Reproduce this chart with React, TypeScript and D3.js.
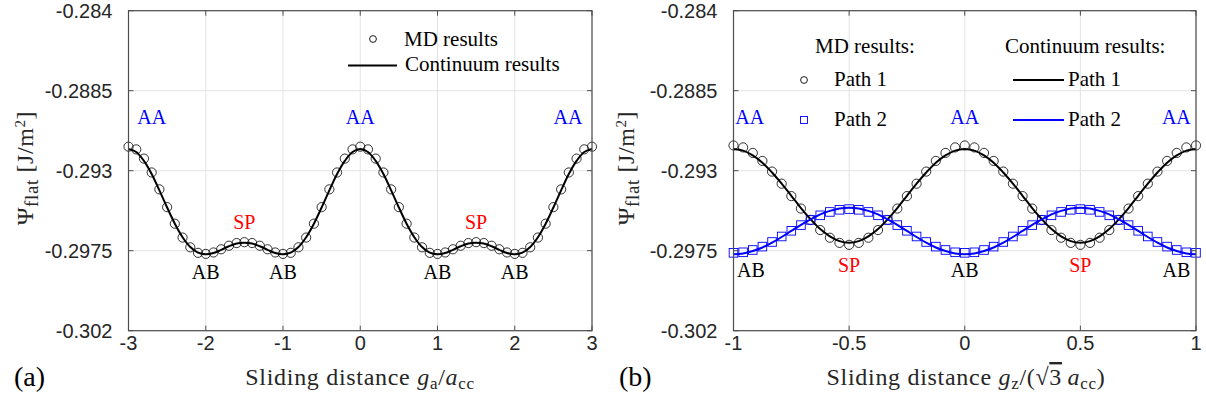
import React from "react";
import * as d3 from "d3";

// ---------- data ----------
const LEFT_X_START = -3;
const LEFT_X_STEP = 0.1;
const LEFT_MD = [-0.29165, -0.29180, -0.29232, -0.29310, -0.29405, -0.29505, -0.29598, -0.29676, -0.29731, -0.29762, -0.29768, -0.29760, -0.29742, -0.29722, -0.29707, -0.29702, -0.29707, -0.29722, -0.29742, -0.29760, -0.29768, -0.29762, -0.29731, -0.29676, -0.29598, -0.29505, -0.29405, -0.29310, -0.29232, -0.29180, -0.29165, -0.29180, -0.29232, -0.29310, -0.29405, -0.29505, -0.29598, -0.29676, -0.29731, -0.29762, -0.29768, -0.29760, -0.29742, -0.29722, -0.29707, -0.29702, -0.29707, -0.29722, -0.29742, -0.29760, -0.29768, -0.29762, -0.29731, -0.29676, -0.29598, -0.29505, -0.29405, -0.29310, -0.29232, -0.29180, -0.29165];
const LEFT_CONT = [-0.29178, -0.29195, -0.29245, -0.29319, -0.29411, -0.29507, -0.29598, -0.29674, -0.29729, -0.29761, -0.29770, -0.29763, -0.29745, -0.29725, -0.29710, -0.29705, -0.29710, -0.29725, -0.29745, -0.29763, -0.29770, -0.29761, -0.29729, -0.29674, -0.29598, -0.29507, -0.29411, -0.29319, -0.29245, -0.29195, -0.29178, -0.29195, -0.29245, -0.29319, -0.29411, -0.29507, -0.29598, -0.29674, -0.29729, -0.29761, -0.29770, -0.29763, -0.29745, -0.29725, -0.29710, -0.29705, -0.29710, -0.29725, -0.29745, -0.29763, -0.29770, -0.29761, -0.29729, -0.29674, -0.29598, -0.29507, -0.29411, -0.29319, -0.29245, -0.29195, -0.29178];

const RIGHT_X_START = -1;
const RIGHT_X_STEP = 1 / 24;
const RIGHT_MD_PATH1 = [-0.29158, -0.29169, -0.29200, -0.29245, -0.29305, -0.29373, -0.29443, -0.29513, -0.29577, -0.29634, -0.29677, -0.29706, -0.29717, -0.29706, -0.29677, -0.29634, -0.29577, -0.29513, -0.29443, -0.29373, -0.29305, -0.29245, -0.29200, -0.29169, -0.29158, -0.29169, -0.29200, -0.29245, -0.29305, -0.29373, -0.29443, -0.29513, -0.29577, -0.29634, -0.29677, -0.29706, -0.29717, -0.29706, -0.29677, -0.29634, -0.29577, -0.29513, -0.29443, -0.29373, -0.29305, -0.29245, -0.29200, -0.29169, -0.29158];
const RIGHT_MD_PATH2 = [-0.29762, -0.29759, -0.29746, -0.29727, -0.29701, -0.29670, -0.29638, -0.29606, -0.29577, -0.29551, -0.29532, -0.29520, -0.29516, -0.29520, -0.29532, -0.29551, -0.29577, -0.29606, -0.29638, -0.29670, -0.29701, -0.29727, -0.29746, -0.29759, -0.29762, -0.29759, -0.29746, -0.29727, -0.29701, -0.29670, -0.29638, -0.29606, -0.29577, -0.29551, -0.29532, -0.29520, -0.29516, -0.29520, -0.29532, -0.29551, -0.29577, -0.29606, -0.29638, -0.29670, -0.29701, -0.29727, -0.29746, -0.29759, -0.29762];
const RIGHT_CONT_PATH1 = [-0.29178, -0.29187, -0.29214, -0.29255, -0.29310, -0.29373, -0.29441, -0.29510, -0.29573, -0.29628, -0.29669, -0.29696, -0.29705, -0.29696, -0.29669, -0.29628, -0.29573, -0.29510, -0.29441, -0.29373, -0.29310, -0.29255, -0.29214, -0.29187, -0.29178, -0.29187, -0.29214, -0.29255, -0.29310, -0.29373, -0.29441, -0.29510, -0.29573, -0.29628, -0.29669, -0.29696, -0.29705, -0.29696, -0.29669, -0.29628, -0.29573, -0.29510, -0.29441, -0.29373, -0.29310, -0.29255, -0.29214, -0.29187, -0.29178];
const RIGHT_CONT_PATH2 = [-0.29770, -0.29766, -0.29752, -0.29732, -0.29705, -0.29673, -0.29639, -0.29605, -0.29574, -0.29546, -0.29526, -0.29512, -0.29508, -0.29512, -0.29526, -0.29546, -0.29574, -0.29605, -0.29639, -0.29673, -0.29705, -0.29732, -0.29752, -0.29766, -0.29770, -0.29766, -0.29752, -0.29732, -0.29705, -0.29673, -0.29639, -0.29605, -0.29574, -0.29546, -0.29526, -0.29512, -0.29508, -0.29512, -0.29526, -0.29546, -0.29574, -0.29605, -0.29639, -0.29673, -0.29705, -0.29732, -0.29752, -0.29766, -0.29770];

const Y_TICKS = [-0.302, -0.2975, -0.293, -0.2885, -0.284];
const Y_TICK_LABELS = ["-0.302", "-0.2975", "-0.293", "-0.2885", "-0.284"];
const LEFT_X_TICKS = [-3, -2, -1, 0, 1, 2, 3];
const LEFT_X_TICK_LABELS = ["-3", "-2", "-1", "0", "1", "2", "3"];
const RIGHT_X_TICKS = [-1, -0.5, 0, 0.5, 1];
const RIGHT_X_TICK_LABELS = ["-1", "-0.5", "0", "0.5", "1"];

const LEFT_ANNOT = [
  { x: -2.7, y: -0.2904, t: "AA", c: "#0000ff" },
  { x: 0, y: -0.2904, t: "AA", c: "#0000ff" },
  { x: 2.69, y: -0.2904, t: "AA", c: "#0000ff" },
  { x: -1.5, y: -0.2963, t: "SP", c: "#ff0000" },
  { x: 1.5, y: -0.2963, t: "SP", c: "#ff0000" },
  { x: -2, y: -0.2991, t: "AB", c: "#000000" },
  { x: -1, y: -0.2991, t: "AB", c: "#000000" },
  { x: 1, y: -0.2991, t: "AB", c: "#000000" },
  { x: 2, y: -0.2991, t: "AB", c: "#000000" },
];
const RIGHT_ANNOT = [
  { x: -0.93, y: -0.2904, t: "AA", c: "#0000ff" },
  { x: 0, y: -0.2904, t: "AA", c: "#0000ff" },
  { x: 0.915, y: -0.2904, t: "AA", c: "#0000ff" },
  { x: -0.5, y: -0.2987, t: "SP", c: "#ff0000" },
  { x: 0.5, y: -0.2987, t: "SP", c: "#ff0000" },
  { x: -0.925, y: -0.2990, t: "AB", c: "#000000" },
  { x: 0, y: -0.2990, t: "AB", c: "#000000" },
  { x: 0.915, y: -0.2990, t: "AB", c: "#000000" },
];

// ---------- style ----------
const SERIF = "'Liberation Serif', 'Times New Roman', serif";
const SANS = "'Liberation Sans', Arial, sans-serif";
const TOP = 10.7;
const BOTTOM = 330.7;
const AXIS_COLOR = "#4d4d4d";
const GRID_COLOR = "#e3e3e3";

const yScale = d3.scaleLinear().domain([-0.302, -0.284]).range([BOTTOM, TOP]);

function Grid({ x, xTicks }: any) {
  const [x0, x1] = x.range();
  return (
    <g>
      {xTicks.map((t: number, i: number) => (
        <line key={"gx" + i} x1={x(t)} x2={x(t)} y1={TOP} y2={BOTTOM} stroke={GRID_COLOR} strokeWidth={1} />
      ))}
      {Y_TICKS.map((t, i) => (
        <line key={"gy" + i} x1={x0} x2={x1} y1={yScale(t)} y2={yScale(t)} stroke={GRID_COLOR} strokeWidth={1} />
      ))}
    </g>
  );
}

function Axes({ x, xTicks, xLabels }: any) {
  const [x0, x1] = x.range();
  return (
    <g>
      <rect x={x0} y={TOP} width={x1 - x0} height={BOTTOM - TOP} fill="none" stroke={AXIS_COLOR} strokeWidth={1.2} />
      {xTicks.map((t: number, i: number) => (
        <g key={"tx" + i}>
          <line x1={x(t)} x2={x(t)} y1={BOTTOM} y2={BOTTOM - 5} stroke={AXIS_COLOR} />
          <line x1={x(t)} x2={x(t)} y1={TOP} y2={TOP + 5} stroke={AXIS_COLOR} />
          <text x={x(t)} y={350} textAnchor="middle" fontFamily={SANS} fontSize={20} fill="#262626">
            {xLabels[i]}
          </text>
        </g>
      ))}
      {Y_TICKS.map((t, i) => (
        <g key={"ty" + i}>
          <line x1={x0} x2={x0 + 5} y1={yScale(t)} y2={yScale(t)} stroke={AXIS_COLOR} />
          <line x1={x1} x2={x1 - 5} y1={yScale(t)} y2={yScale(t)} stroke={AXIS_COLOR} />
          <text x={x0 - 16} y={yScale(t) + 7} textAnchor="end" fontFamily={SANS} fontSize={20} fill="#262626">
            {Y_TICK_LABELS[i]}
          </text>
        </g>
      ))}
    </g>
  );
}

function YLabel({ cx }: { cx: number }) {
  return (
    <text transform={`translate(${cx},168) rotate(-90)`} textAnchor="middle" fontFamily={SERIF} fontSize={24} letterSpacing={0.6} fill="#262626">
      Ψ<tspan dy={5} fontSize={19}>flat</tspan>
      <tspan dy={-5}>{"\u00a0[J/m"}</tspan>
      <tspan dy={-8} fontSize={15}>2</tspan>
      <tspan dy={8}>]</tspan>
    </text>
  );
}

function Annots({ x, list }: any) {
  return (
    <g>
      {list.map((a: any, i: number) => (
        <text key={i} x={x(a.x)} y={yScale(a.y)} textAnchor="middle" fontFamily={SERIF} fontSize={20} fill={a.c}>
          {a.t}
        </text>
      ))}
    </g>
  );
}

export default function App() {
  const xL = d3.scaleLinear().domain([-3, 3]).range([128.5, 592]);
  const xR = d3.scaleLinear().domain([-1, 1]).range([733.5, 1196]);

  const leftPts = LEFT_MD.map((v, i) => [LEFT_X_START + i * LEFT_X_STEP, v]);
  const leftLine = LEFT_CONT.map((v, i) => [LEFT_X_START + i * LEFT_X_STEP, v]);
  const r1 = RIGHT_MD_PATH1.map((v, i) => [RIGHT_X_START + i * RIGHT_X_STEP, v]);
  const r2 = RIGHT_MD_PATH2.map((v, i) => [RIGHT_X_START + i * RIGHT_X_STEP, v]);
  const c1 = RIGHT_CONT_PATH1.map((v, i) => [RIGHT_X_START + i * RIGHT_X_STEP, v]);
  const c2 = RIGHT_CONT_PATH2.map((v, i) => [RIGHT_X_START + i * RIGHT_X_STEP, v]);

  const lineL = d3
    .line<number[]>()
    .x((d) => xL(d[0]))
    .y((d) => yScale(d[1]))
    .curve(d3.curveCatmullRom.alpha(0.5));
  const lineR = d3
    .line<number[]>()
    .x((d) => xR(d[0]))
    .y((d) => yScale(d[1]))
    .curve(d3.curveCatmullRom.alpha(0.5));

  return (
    <svg width={1206} height={403} style={{ position: "absolute", left: 0, top: 0, background: "#fff" }}>
      <rect x={0} y={0} width={1206} height={403} fill="#fff" />
      {/* Left panel */}
      <Grid x={xL} xTicks={LEFT_X_TICKS} />
      {leftPts.map((d, i) => (
        <circle key={"lm" + i} cx={xL(d[0])} cy={yScale(d[1])} r={4.6} fill="none" stroke="#000" strokeWidth={0.8} />
      ))}
      <path d={lineL(leftLine) || ""} fill="none" stroke="#000" strokeWidth={2} />
      <Axes x={xL} xTicks={LEFT_X_TICKS} xLabels={LEFT_X_TICK_LABELS} />
      <Annots x={xL} list={LEFT_ANNOT} />
      {/* left legend */}
      <circle cx={373} cy={39} r={3.4} fill="none" stroke="#000" strokeWidth={0.9} />
      <text x={404} y={46} fontFamily={SERIF} fontSize={21} fill="#000">MD results</text>
      <line x1={348} x2={397} y1={65.5} y2={65.5} stroke="#000" strokeWidth={2} />
      <text x={405} y={71} fontFamily={SERIF} fontSize={21} fill="#000">Continuum results</text>
      <YLabel cx={33} />
      <text x={360} y={385} textAnchor="middle" fontFamily={SERIF} fontSize={24} letterSpacing={0.7} fill="#262626">
        Sliding distance <tspan fontStyle="italic">g</tspan>
        <tspan dy={4} fontSize={17}>a</tspan>
        <tspan dy={-4}>/</tspan>
        <tspan fontStyle="italic">a</tspan>
        <tspan dy={4} fontSize={17}>cc</tspan>
      </text>
      <text x={14} y={386} fontFamily={SERIF} fontSize={28} fill="#000">(a)</text>

      {/* Right panel */}
      <Grid x={xR} xTicks={RIGHT_X_TICKS} />
      {r1.map((d, i) => (
        <circle key={"rm1" + i} cx={xR(d[0])} cy={yScale(d[1])} r={4.6} fill="none" stroke="#000" strokeWidth={0.8} />
      ))}
      {r2.map((d, i) => (
        <rect key={"rm2" + i} x={xR(d[0]) - 4.3} y={yScale(d[1]) - 4.3} width={8.6} height={8.6} fill="none" stroke="#0000ff" strokeWidth={0.9} />
      ))}
      <path d={lineR(c1) || ""} fill="none" stroke="#000" strokeWidth={2} />
      <path d={lineR(c2) || ""} fill="none" stroke="#0000ff" strokeWidth={2} />
      <Axes x={xR} xTicks={RIGHT_X_TICKS} xLabels={RIGHT_X_TICK_LABELS} />
      <Annots x={xR} list={RIGHT_ANNOT} />
      {/* right legend */}
      <text x={815} y={53} fontFamily={SERIF} fontSize={21} fill="#000">MD results:</text>
      <text x={1005} y={53} fontFamily={SERIF} fontSize={21} fill="#000">Continuum results:</text>
      <circle cx={804} cy={80} r={3.4} fill="none" stroke="#000" strokeWidth={0.9} />
      <text x={834} y={86} fontFamily={SERIF} fontSize={21} fill="#000">Path 1</text>
      <rect x={800.5} y={116.5} width={7} height={7} fill="none" stroke="#0000ff" strokeWidth={0.9} />
      <text x={834} y={126} fontFamily={SERIF} fontSize={21} fill="#000">Path 2</text>
      <line x1={1013} x2={1064} y1={80} y2={80} stroke="#000" strokeWidth={2} />
      <text x={1068} y={86} fontFamily={SERIF} fontSize={21} fill="#000">Path 1</text>
      <line x1={1013} x2={1064} y1={120} y2={120} stroke="#0000ff" strokeWidth={2} />
      <text x={1068} y={126} fontFamily={SERIF} fontSize={21} fill="#000">Path 2</text>
      <YLabel cx={634} />
      <text x={966} y={385} textAnchor="middle" fontFamily={SERIF} fontSize={24} letterSpacing={0.7} fill="#262626">
        Sliding distance <tspan fontStyle="italic">g</tspan>
        <tspan dy={4} fontSize={17}>z</tspan>
        <tspan dy={-4}>{"/(\u221a"}</tspan>
        <tspan style={{ textDecoration: "overline" }}>3</tspan>
        <tspan>{"\u2009"}</tspan>
        <tspan fontStyle="italic">a</tspan>
        <tspan dy={4} fontSize={17}>cc</tspan>
        <tspan dy={-4}>)</tspan>
      </text>
      <text x={619} y={386} fontFamily={SERIF} fontSize={28} fill="#000">(b)</text>
    </svg>
  );
}
